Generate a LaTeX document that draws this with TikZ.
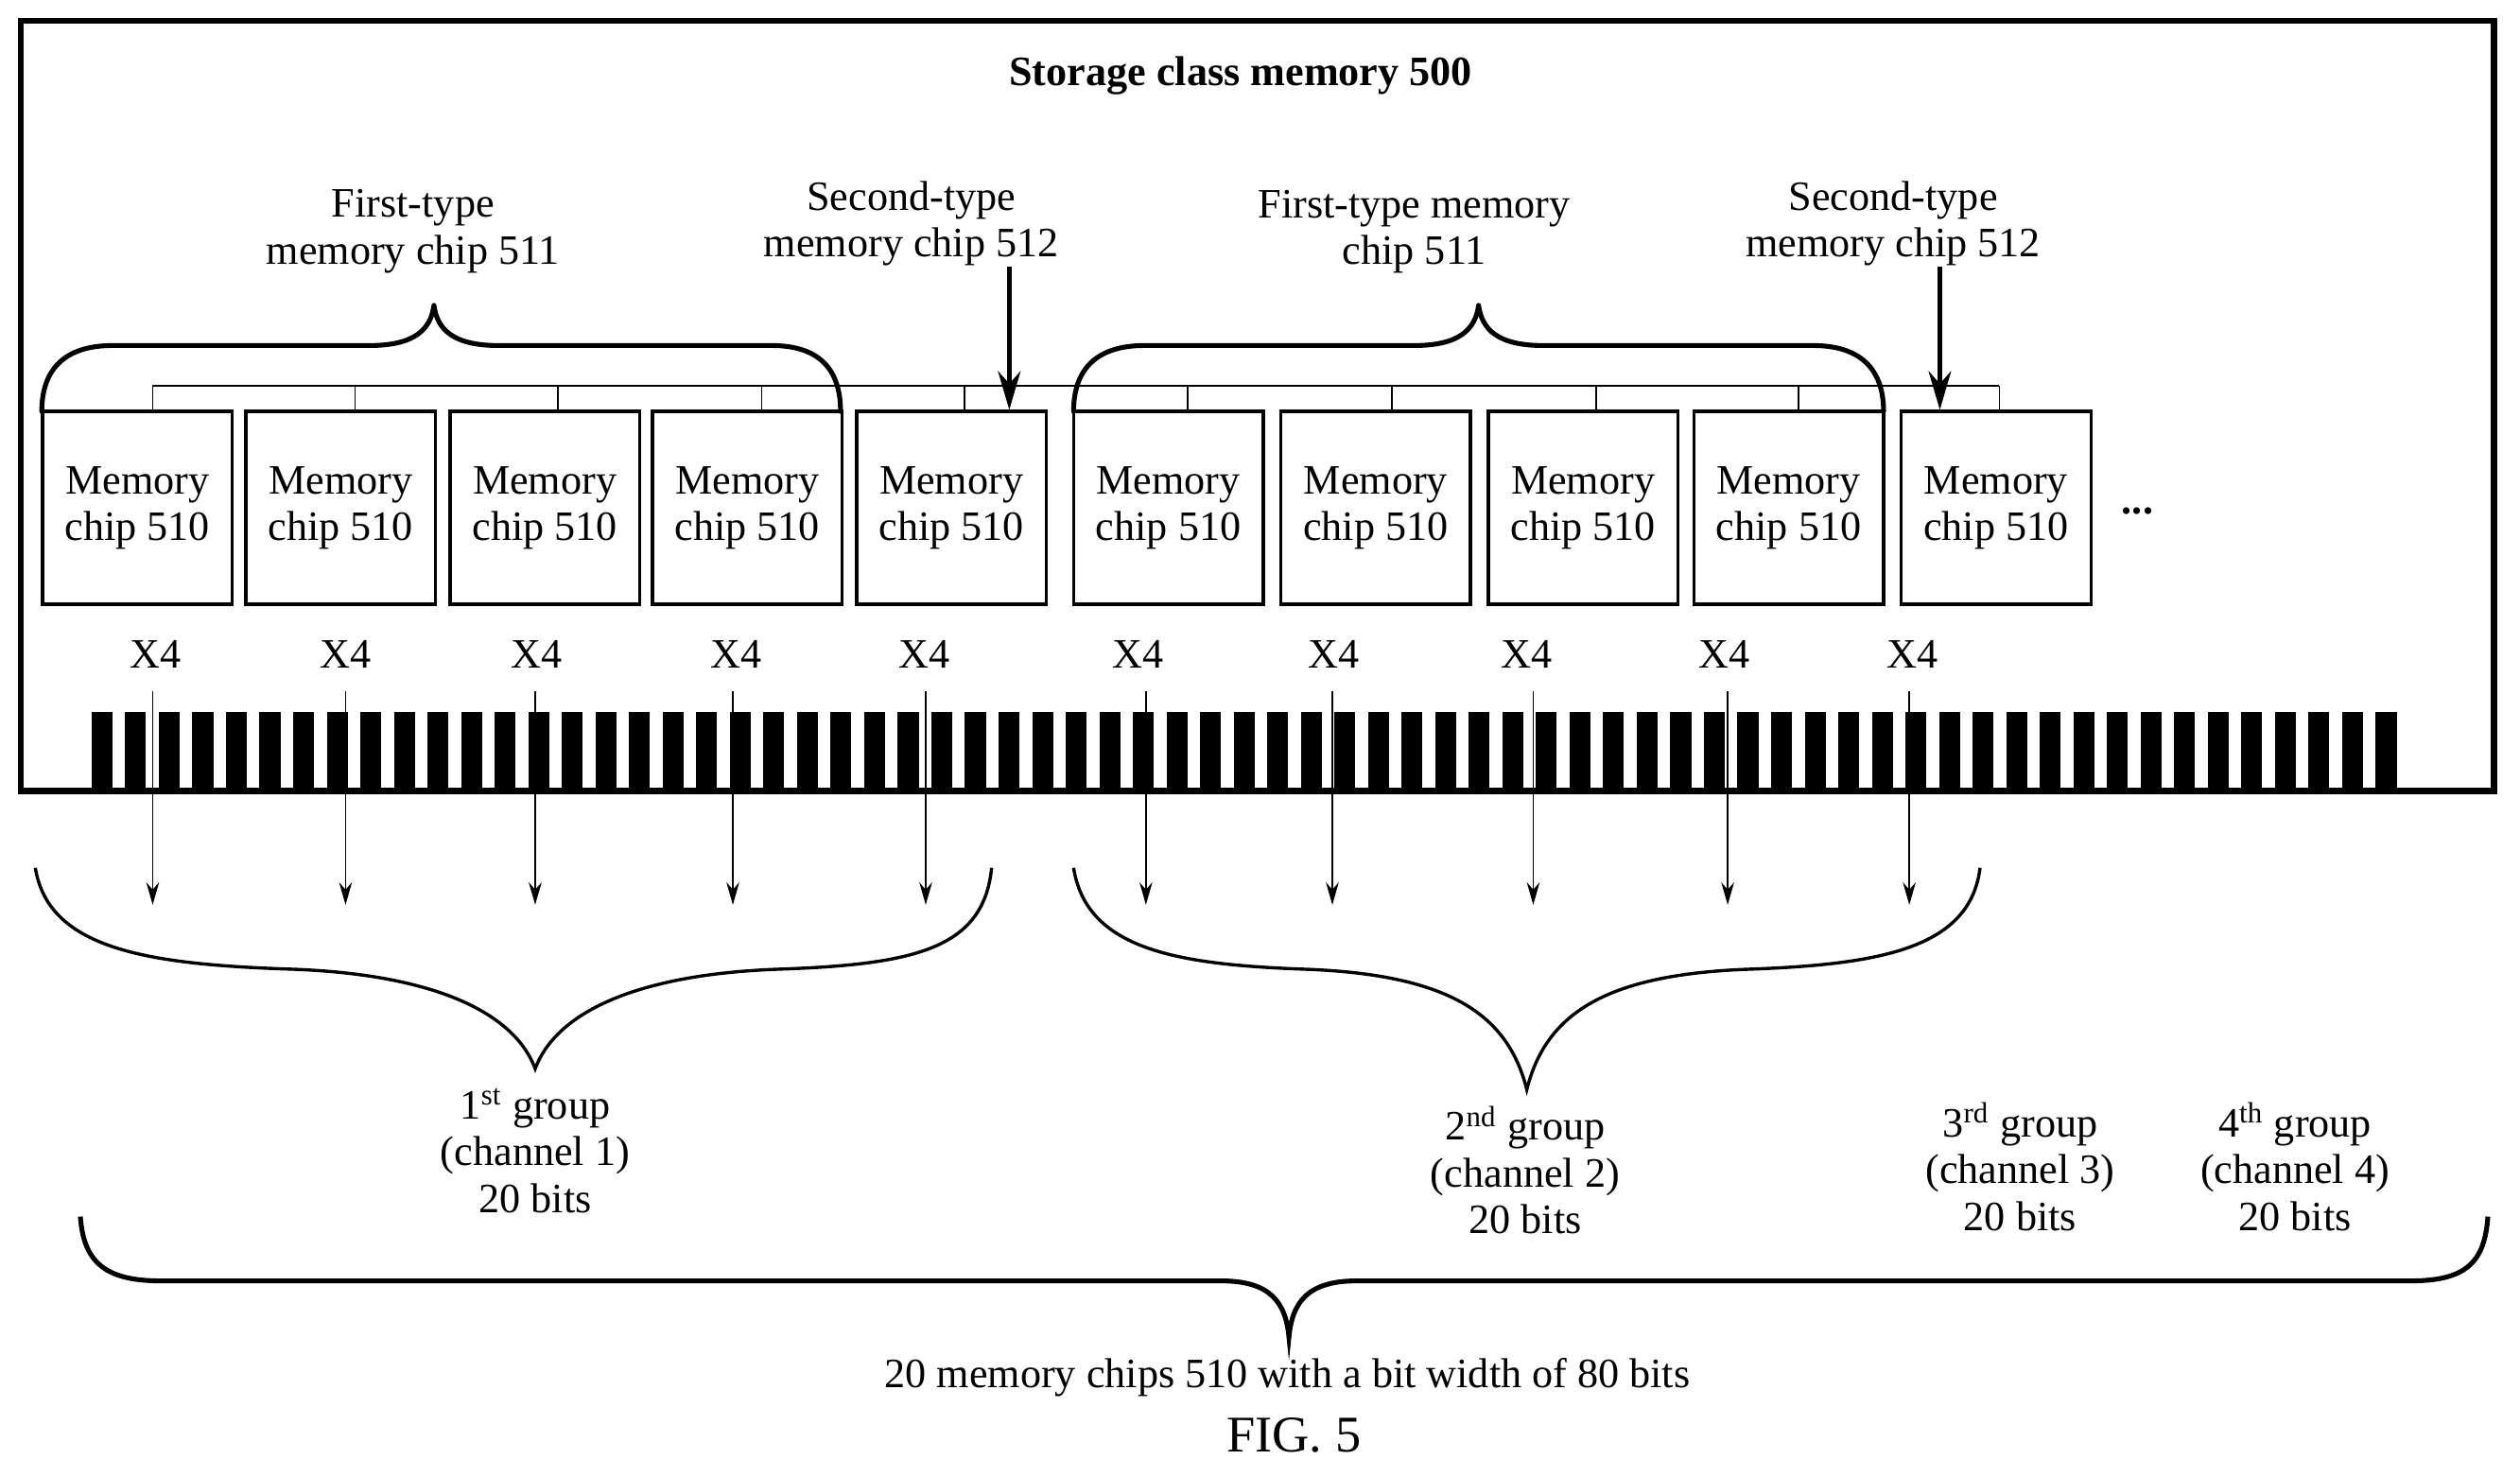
\documentclass[tikz,border=0pt]{standalone}
\usepackage{fontspec}
\setmainfont{Liberation Serif}
\usetikzlibrary{arrows.meta}
\tikzset{every picture/.style={line width=0.5pt}}
\tikzset{
  chip/.style={draw,line width=1pt,minimum width=59pt,minimum height=60pt,align=center,inner sep=0pt,font=\fontsize{13}{14.5}\selectfont},
  lbl/.style={align=center,inner sep=0pt,font=\fontsize{13}{14.5}\selectfont},
  brc/.style={line width=1.5pt,line join=round,line cap=round},
  pin/.style={fill=black,draw=none},
  sig/.style={-{Stealth[length=7pt,width=4pt]}}
}
\begin{document}
\begin{tikzpicture}[x=0.5pt,y=-0.5pt]
\useasboundingbox (0,0) rectangle (1568,919);
%Outer box
\draw [line width=2pt] (13,13) rectangle (1552,492);
\node [lbl,font=\fontsize{13}{14.5}\bfseries] (title) at (772,47) {Storage class memory 500};
%Chips
\foreach \i/\x in {1/85.5,2/212,3/339,4/465,5/592,6/727,7/856,8/985,9/1113,10/1242}
  \node [chip] (c\i) at (\x,316) {Memory\\chip 510};
\node [lbl] (dots) at (1330,318) {\textbf{...}};
%Bus
\draw (95,240) -- (1244,240);
\foreach \i/\x in {1/95,2/221,3/347,4/474,5/600,6/739,7/866,8/993,9/1119,10/1244}
  \draw (\x,240) -- (\x,256);
%Upper braces
\draw [brc] (26,256) .. controls (26,230) and (40,215) .. (70,215) -- (230,215) .. controls (258,215) and (268,205) .. (270,190) .. controls (272,205) and (282,215) .. (310,215) -- (480,215) .. controls (510,215) and (523,230) .. (523,256);
\draw [brc] (668,256) .. controls (668,230) and (682,215) .. (712,215) -- (880,215) .. controls (908,215) and (918,205) .. (920,190) .. controls (922,205) and (932,215) .. (960,215) -- (1128,215) .. controls (1158,215) and (1172,230) .. (1172,256);
\node [lbl] (ft1) at (257,144) {First-type\\memory chip 511};
\node [lbl] (st1) at (567,139) {Second-type\\memory chip 512};
\node [lbl] (ft2) at (880,144) {First-type memory\\chip 511};
\node [lbl] (st2) at (1178,139) {Second-type\\memory chip 512};
\coordinate (a1) at (628,166);
\coordinate (a2) at (1207,166);
\draw [line width=1.5pt,-{Stealth[length=12pt,width=7pt]}] (a1) -- (a1 |- c5.north);
\draw [line width=1.5pt,-{Stealth[length=12pt,width=7pt]}] (a2) -- (a2 |- c10.north);
%Pins
\foreach \k in {0,...,68}
  \fill [pin] (57+\k*20.9,443) rectangle ++(13,49);
%X4 and signal arrows
\foreach \i/\x/\ax in {1/97/95,2/215/215,3/334/333,4/458/456,5/575/576,6/708/713,7/830/829,8/950/954,9/1073/1075,10/1190/1188}{
  \node [lbl] (x\i) at (\x,407) {X4};
  \coordinate (s\i) at (\ax,430);
  \coordinate (e\i) at (\ax,563);
  \draw [sig] (s\i) -- (e\i);
}
%Lower braces
\draw [line width=1pt] (22,540) .. controls (30,590) and (90,600) .. (180,603) .. controls (270,606) and (320,630) .. (333,665) .. controls (346,630) and (396,606) .. (486,603) .. controls (570,600) and (612,590) .. (617,540);
\draw [line width=1pt] (668,540) .. controls (676,590) and (730,600) .. (810,603) .. controls (900,606) and (938,630) .. (950,678) .. controls (962,630) and (1000,606) .. (1090,603) .. controls (1170,600) and (1226,590) .. (1232,540);
\node [lbl] (g1) at (333,716) {1\textsuperscript{st} group\\(channel 1)\\20 bits};
\node [lbl] (g2) at (949,728) {2\textsuperscript{nd} group\\(channel 2)\\20 bits};
\node [lbl] (g3) at (1257,726) {3\textsuperscript{rd} group\\(channel 3)\\20 bits};
\node [lbl] (g4) at (1428,726) {4\textsuperscript{th} group\\(channel 4)\\20 bits};
%Big brace
\draw [line width=1.5pt] (50,757) .. controls (52,785) and (65,797) .. (100,797) -- (760,797) .. controls (790,797) and (800,810) .. (802,832) .. controls (804,810) and (814,797) .. (844,797) -- (1500,797) .. controls (1535,797) and (1546,785) .. (1548,757);
\node [lbl] (tot) at (801,857) {20 memory chips 510 with a bit width of 80 bits};
\node [lbl,font=\fontsize{16}{18}\selectfont] (fig) at (805,893) {FIG. 5};
\end{tikzpicture}
\end{document}
